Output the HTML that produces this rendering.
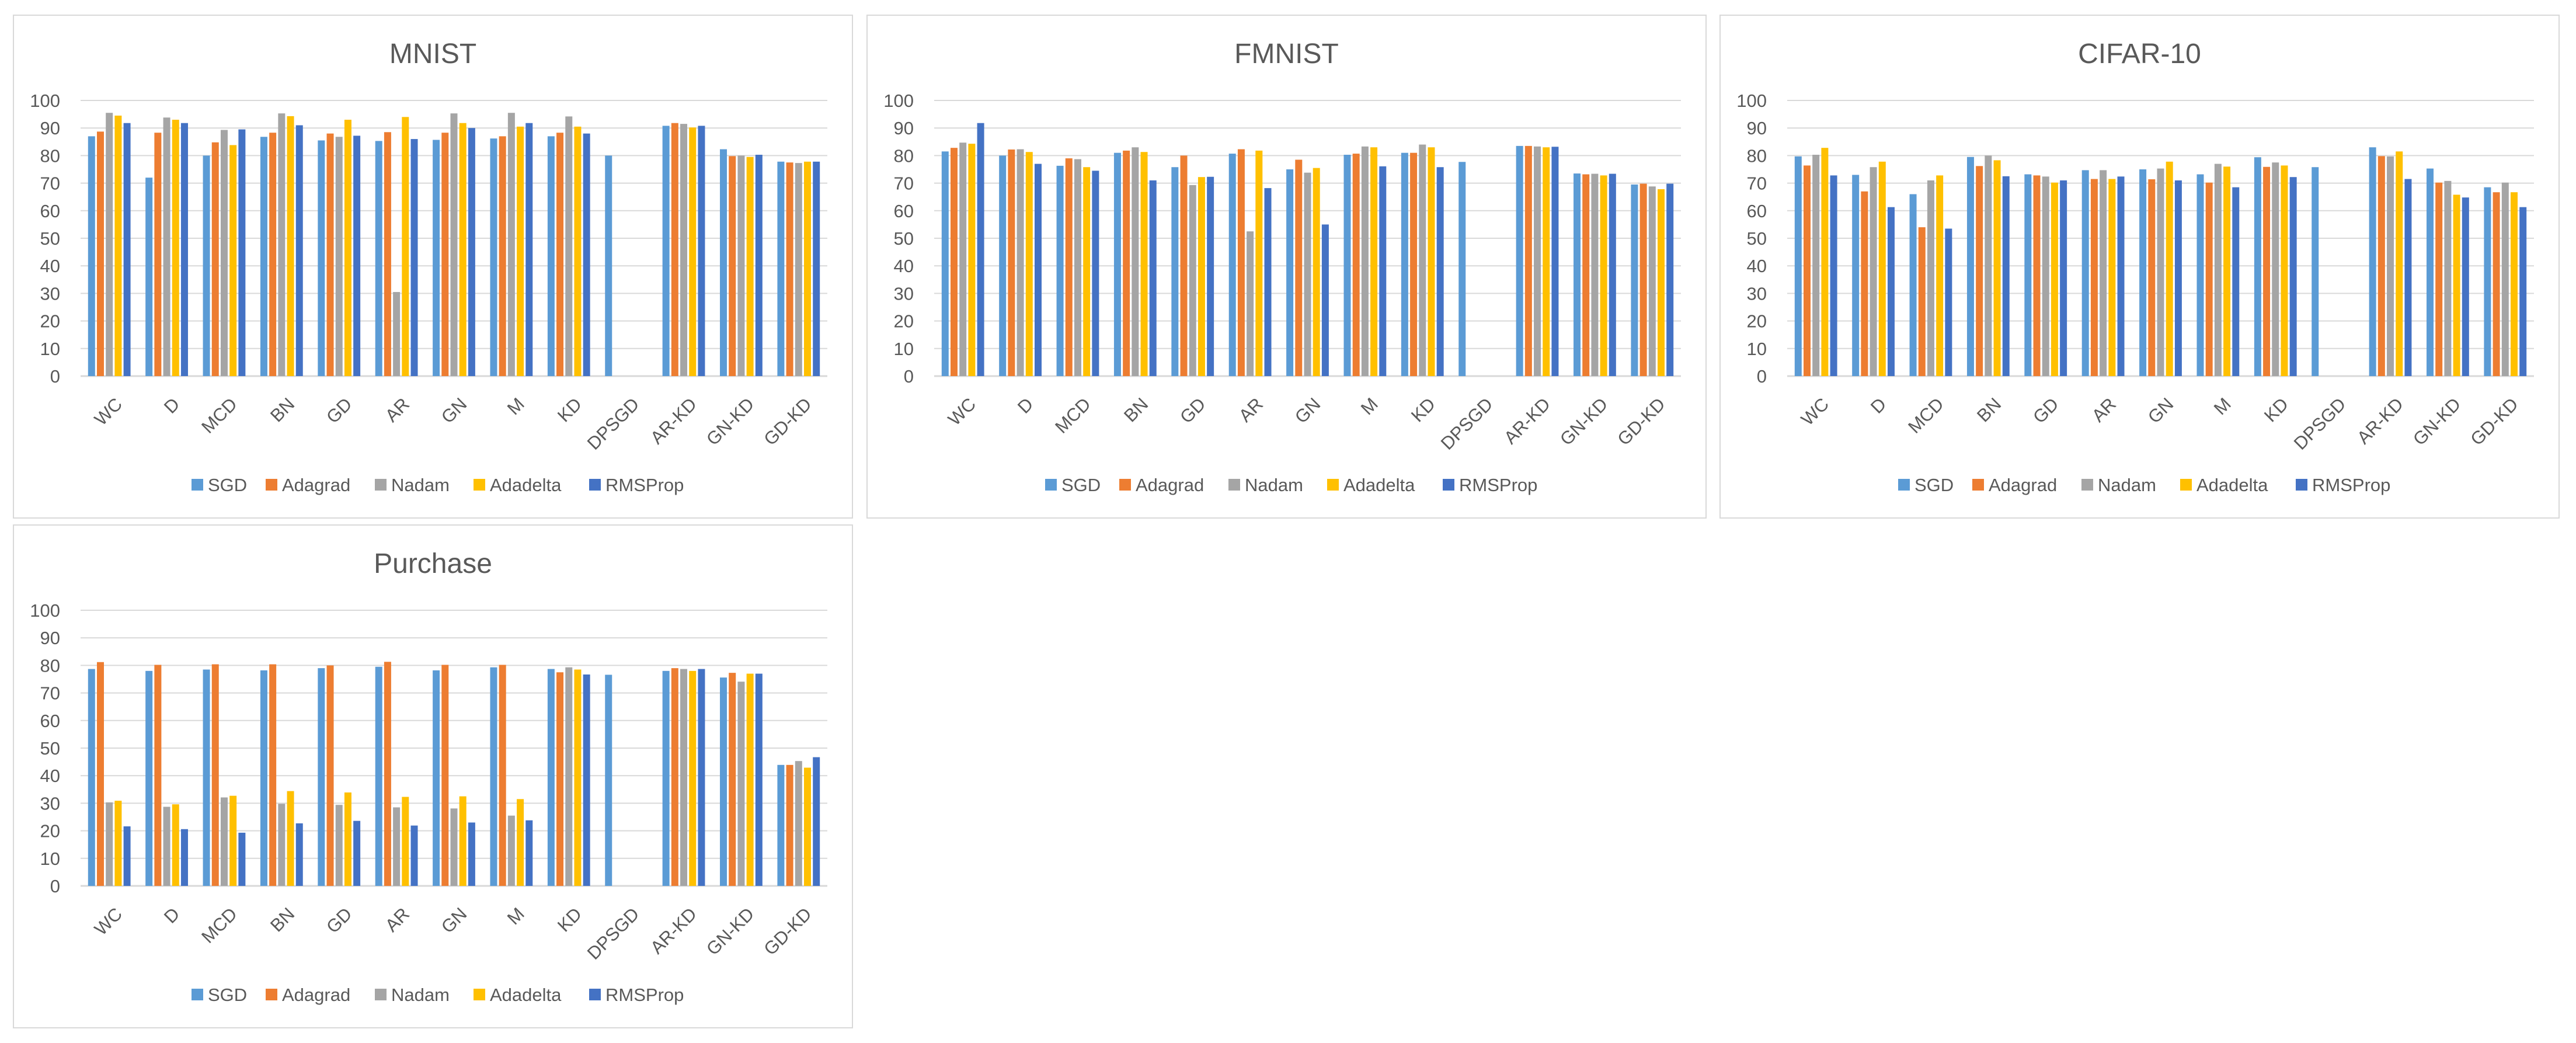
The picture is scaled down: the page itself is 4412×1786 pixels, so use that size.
<!DOCTYPE html>
<html><head><meta charset="utf-8">
<style>
html,body{margin:0;padding:0;background:#fff;}
body{width:4412px;height:1786px;position:relative;overflow:hidden;font-family:"Liberation Sans",sans-serif;}
.panel{position:absolute;width:1439px;height:863px;box-sizing:border-box;border:2px solid #d9d9d9;background:#fff;}
svg{position:absolute;left:0;top:0;}
</style></head>
<body>
<div class="panel" id="p-mnist" style="left:22px;top:25px"></div>
<div class="panel" id="p-fmnist" style="left:1484px;top:25px"></div>
<div class="panel" id="p-cifar" style="left:2945px;top:25px"></div>
<div class="panel" id="p-purchase" style="left:22px;top:898px"></div>
<script>
const categories = ["WC","D","MCD","BN","GD","AR","GN","M","KD","DPSGD","AR-KD","GN-KD","GD-KD"];
const seriesNames = ["SGD","Adagrad","Nadam","Adadelta","RMSProp"];
const seriesColors = ["#5B9BD5","#ED7D31","#A5A5A5","#FFC000","#4472C4"];
const yTicks = [0,10,20,30,40,50,60,70,80,90,100];

const mnistSGD      = [87,72,80,86.8,85.5,85.3,85.7,86.2,87,80,90.8,82.3,77.8];
const mnistAdagrad  = [88.7,88.3,84.8,88.3,88,88.5,88.3,87,88.3,null,91.8,79.8,77.5];
const mnistNadam    = [95.5,93.8,89.3,95.3,86.8,30.5,95.3,95.5,94.2,null,91.5,80,77.3];
const mnistAdadelta = [94.5,93,83.8,94.3,93,94,91.8,90.5,90.5,null,90.2,79.5,77.8];
const mnistRMSProp  = [91.8,91.8,89.5,91,87.2,86,90,91.8,88,null,90.8,80.3,77.8];

const fmnistSGD      = [81.5,80,76.3,81,75.8,80.7,75,80.3,81,77.7,83.5,73.5,69.5];
const fmnistAdagrad  = [82.8,82.2,79,81.8,80,82.3,78.5,80.7,81,null,83.5,73.2,69.8];
const fmnistNadam    = [84.7,82.3,78.7,83,69.3,52.5,73.8,83.3,84,null,83.3,73.4,68.8];
const fmnistAdadelta = [84.3,81.3,75.8,81.3,72.2,81.8,75.5,83,83,null,83,72.8,67.8];
const fmnistRMSProp  = [91.8,77,74.5,71,72.3,68.2,55,76.1,75.8,null,83.2,73.4,69.8];

const cifarSGD      = [79.7,73,66,79.5,73.2,74.7,75,73.2,79.4,75.8,83,75.3,68.5];
const cifarAdagrad  = [76.4,67,54,76.2,72.8,71.5,71.4,70.2,75.9,null,79.8,70.2,66.7];
const cifarNadam    = [80.3,75.8,71,80,72.4,74.7,75.3,77,77.5,null,79.7,70.8,70.2];
const cifarAdadelta = [82.8,77.8,72.8,78.3,70.2,71.5,77.8,76,76.4,null,81.5,65.8,66.7];
const cifarRMSProp  = [72.8,61.3,53.5,72.5,71,72.4,71,68.5,72.2,null,71.5,64.8,61.3];

const purchaseSGD      = [78.7,78,78.5,78.2,79,79.5,78.2,79.3,78.7,76.6,78,75.6,43.9];
const purchaseAdagrad  = [81.2,80.2,80.4,80.4,80,81.3,80.2,80.2,77.5,null,79,77.3,43.9];
const purchaseNadam    = [30.3,28.7,32.1,29.8,29.4,28.5,28.1,25.5,79.3,null,78.7,74.1,45.3];
const purchaseAdadelta = [30.9,29.6,32.7,34.4,33.9,32.3,32.5,31.5,78.5,null,78,77,42.9];
const purchaseRMSProp  = [21.6,20.6,19.3,22.7,23.6,21.9,23,23.8,76.7,null,78.7,77,46.7];

const NS = "http://www.w3.org/2000/svg";
function mk(tag, attrs, parent){
  const e = document.createElementNS(NS, tag);
  for (const k in attrs) e.setAttribute(k, attrs[k]);
  if (parent) parent.appendChild(e);
  return e;
}
function drawChart(panelId, title, slug, series){
  const W = 1439, H = 863;
  const L = 116, R = 1395, Y0 = 619, Y100 = 147;
  const yScale = v => Y0 - (v/100)*(Y0 - Y100);
  const band = (R - L)/categories.length;
  const barW = 12, pitch = 15.2;
  const xCat = i => L + band*i + band/2;
  const svg = mk("svg", {width:W-4, height:H-4, viewBox:"2 2 "+(W-4)+" "+(H-4)}, document.getElementById(panelId));
  const t = mk("text", {x:W/2, y:83, "text-anchor":"middle", "font-size":48, fill:"#595959"}, svg);
  t.textContent = title;
  
  
  yTicks.forEach(v => {
    const y = yScale(v);
    const g = mk("line", {x1:L, x2:R, y1:y, y2:y, stroke:"#d9d9d9", "stroke-width": v===0?3:2}, svg);
    
    
    const lb = mk("text", {x:81, y:y+11, "text-anchor":"end", "font-size":31, fill:"#595959"}, svg);
    lb.textContent = v;
    
    
  });
  series.forEach((vals, s) => {
    vals.forEach((v, i) => {
      if (v === null) return;
      const x = xCat(i) - 2*pitch - barW/2 + s*pitch;
      const r = mk("rect", {x:x, y:yScale(v), width:barW, height:Y0 - yScale(v), fill:seriesColors[s]}, svg);
      
      
    });
  });
  categories.forEach((c, i) => {
    const cx = xCat(i) + 24, cy = Y0 + 50;
    const tx = mk("text", {x:cx, y:cy, "text-anchor":"end", "font-size":31, fill:"#595959", transform:"rotate(-45 "+cx+" "+cy+")"}, svg);
    tx.textContent = c;
    
    
  });
  const legX = [306, 433, 620, 789, 987];
  seriesNames.forEach((n, s) => {
    const g = mk("g", {}, svg);
    
    
    mk("rect", {x:legX[s], y:795, width:20, height:20, fill:seriesColors[s]}, g);
    const lt = mk("text", {x:legX[s]+28, y:816, "font-size":31, fill:"#595959"}, g);
    lt.textContent = n;
  });
}
drawChart("p-mnist", "MNIST", "mnist", [mnistSGD, mnistAdagrad, mnistNadam, mnistAdadelta, mnistRMSProp]);
drawChart("p-fmnist", "FMNIST", "fmnist", [fmnistSGD, fmnistAdagrad, fmnistNadam, fmnistAdadelta, fmnistRMSProp]);
drawChart("p-cifar", "CIFAR-10", "cifar10", [cifarSGD, cifarAdagrad, cifarNadam, cifarAdadelta, cifarRMSProp]);
drawChart("p-purchase", "Purchase", "purchase", [purchaseSGD, purchaseAdagrad, purchaseNadam, purchaseAdadelta, purchaseRMSProp]);
</script>
</body></html>
